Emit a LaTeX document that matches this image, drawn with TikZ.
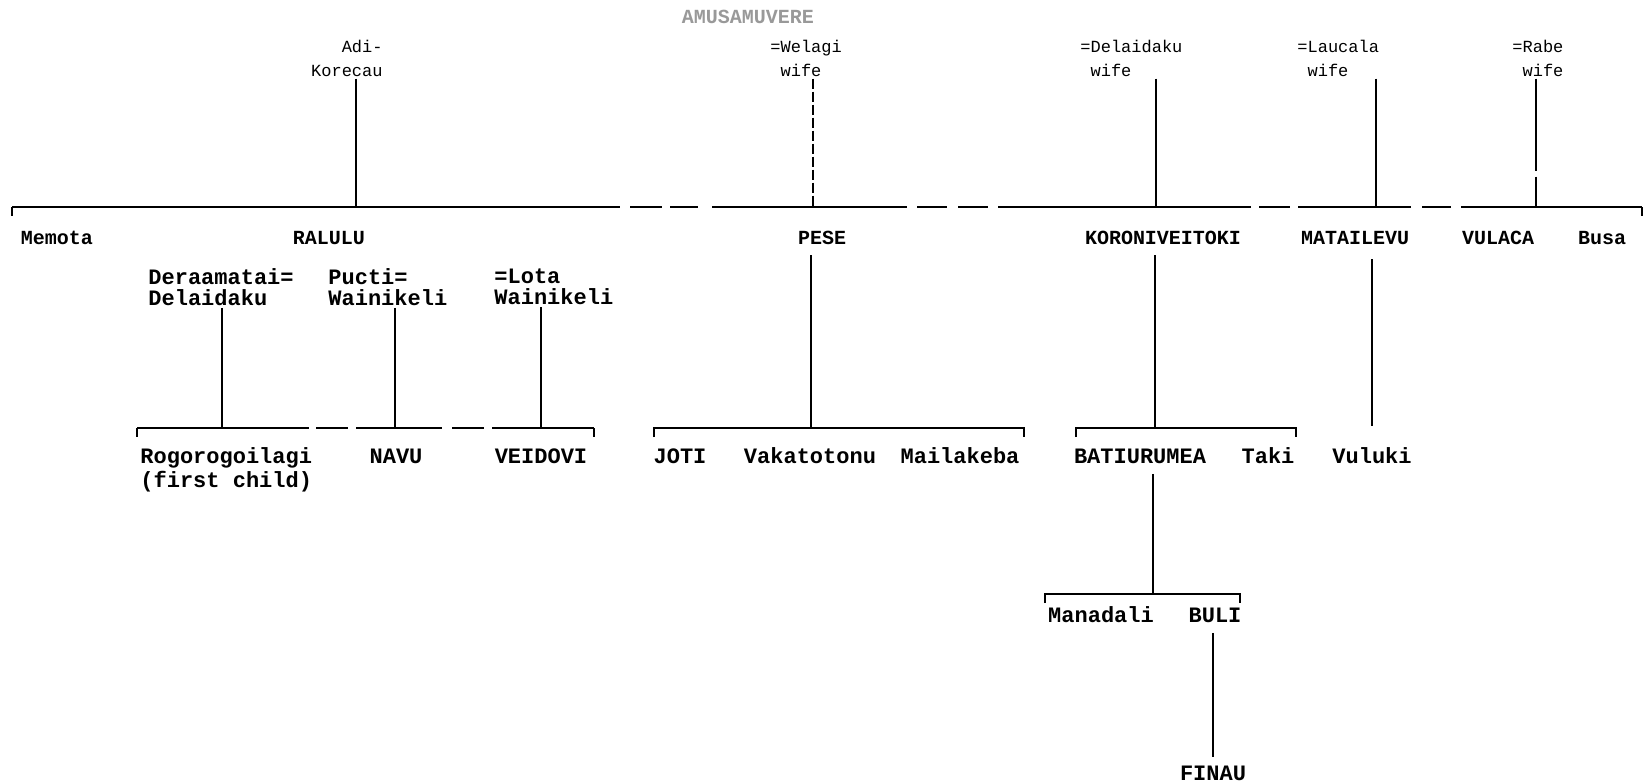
\documentclass[tikz,border=0pt]{standalone}
\usepackage{fontspec}
\setmainfont{Liberation Mono}
\usetikzlibrary{positioning}

\begin{document}
\begin{tikzpicture}[
  x=0.5pt, y=-0.5pt,
  every node/.style = {inner sep=1pt},
  titlelbl/.style = {font=\fontsize{10}{12}\selectfont\bfseries, text=black!40},
  toplbl/.style = {font=\fontsize{8.5}{12}\selectfont, align=left},
  namelbl/.style = {font=\fontsize{10}{12}\selectfont\bfseries},
  kinlbl/.style = {font=\fontsize{11}{12}\selectfont\bfseries, align=left},
  wedlbl/.style = {font=\fontsize{11}{10.5}\selectfont\bfseries, align=left},
  kin/.style = {line width=1pt},
  kinbrk/.style = {kin, dash pattern=on 5pt off 1.5pt},
]
\useasboundingbox (0,0) rectangle (1644,782);

% ---------- wives of the first generation ----------
\node[titlelbl] (title) at (748,17) {AMUSAMUVERE};
\node[toplbl, align=right, anchor=east] (korecau) at (385,58) {Adi-\\Korecau};
\node[toplbl, anchor=west] (welagi) at (768,58) {=Welagi\\\phantom{=}wife};
\node[toplbl, anchor=west] (delaidaku) at (1078,58) {=Delaidaku\\\phantom{=}wife};
\node[toplbl, anchor=west] (laucala) at (1295,58) {=Laucala\\\phantom{=}wife};
\node[toplbl, anchor=west] (rabe) at (1510,58) {=Rabe\\\phantom{=}wife};

% ---------- sons ----------
\node[namelbl] (memota) at (57,238) {Memota};
\node[namelbl] (ralulu) at (329,238) {RALULU};
\node[namelbl] (pese) at (822,238) {PESE};
\node[namelbl] (koroni) at (1163,238) {KORONIVEITOKI};
\node[namelbl] (matai) at (1355,238) {MATAILEVU};
\node[namelbl] (vulaca) at (1498,238) {VULACA};
\node[namelbl] (busa) at (1602,238) {Busa};

% ---------- wives of Ralulu ----------
\node[wedlbl, anchor=west] (deraa) at (146,287) {Deraamatai=\\Delaidaku};
\node[wedlbl, anchor=west] (pucti) at (326,287) {Pucti=\\Wainikeli};
\node[wedlbl, anchor=west] (lota) at (492,287) {=Lota\\Wainikeli};

% ---------- grandchildren ----------
\node[kinlbl, anchor=west] (rogo) at (138,470) {Rogorogoilagi\\(first child)};
\node[kinlbl] (navu) at (396,456) {NAVU};
\node[kinlbl] (veidovi) at (541,456) {VEIDOVI};
\node[kinlbl] (joti) at (680,456) {JOTI};
\node[kinlbl] (vaka) at (810,456) {Vakatotonu};
\node[kinlbl] (maila) at (960,456) {Mailakeba};
\node[kinlbl] (batiu) at (1140,456) {BATIURUMEA};
\node[kinlbl] (taki) at (1268,456) {Taki};
\node[kinlbl] (vuluki) at (1372,456) {Vuluki};

\node[kinlbl] (manadali) at (1101,615) {Manadali};
\node[kinlbl] (buli) at (1215,615) {BULI};
\node[kinlbl] (finau) at (1213,773) {FINAU};

% ---------- junctions on the bars ----------
\coordinate (jadi) at (356,207);
\coordinate (jwel) at (813,207);
\coordinate (jdel) at (1156,207);
\coordinate (jlau) at (1376,207);
\coordinate (jrab) at (1536,207);
\coordinate (jder) at (222,428);
\coordinate (jpuc) at (395,428);
\coordinate (jlot) at (541,428);
\coordinate (jpese) at (811,428);
\coordinate (jkor) at (1155,428);
\coordinate (jbat) at (1153,594);

% ---------- main sibling bar ----------
\foreach \a/\b in {12/620, 630/662, 670/698, 712/907, 917/947, 958/988,
                   998/1251, 1259/1290, 1298/1411, 1422/1451, 1461/1642}
  \draw[kin] (\a,207) -- (\b,207);
\draw[kin] (12,207) -- (12,216);
\draw[kin] (1642,207) -- (1642,216);

\draw[kin] (korecau.south -| jadi) -- (jadi);
\draw[kinbrk] (welagi.south -| jwel) -- (jwel);
\draw[kin] (delaidaku.south -| jdel) -- (jdel);
\draw[kin] (laucala.south -| jlau) -- (jlau);
\draw[kin, dash pattern=on 46pt off 3pt on 40pt] (rabe.south -| jrab) -- (jrab);

% ---------- children bars ----------
\foreach \a/\b in {137/309, 316/348, 356/442, 452/484, 492/594}
  \draw[kin] (\a,428) -- (\b,428);
\draw[kin] (137,428) -- (137,437);
\draw[kin] (594,428) -- (594,437);
\draw[kin] (654,437) -- (654,428) -- (1024,428) -- (1024,437);
\draw[kin] (1076,437) -- (1076,428) -- (1296,428) -- (1296,437);
\draw[kin] (1045,603) -- (1045,594) -- (1240,594) -- (1240,603);

\draw[kin] (deraa.south -| jder) -- (jder);
\draw[kin] (pucti.south -| jpuc) -- (jpuc);
\draw[kin] (lota.south -| jlot) -- (jlot);
\draw[kin, shorten <=4pt] (pese.south -| jpese) -- (jpese);
\draw[kin, shorten <=4pt] (koroni.south -| jkor) -- (jkor);
\draw[kin, shorten <=6pt, shorten >=10pt] (matai.south -| vuluki.north) -- (vuluki.north);
\draw[kin, shorten <=4pt] (batiu.south -| jbat) -- (jbat);
\draw[kin, shorten <=4pt, shorten >=3pt] (buli.south -| finau.north) -- (finau.north);

\end{tikzpicture}
\end{document}
